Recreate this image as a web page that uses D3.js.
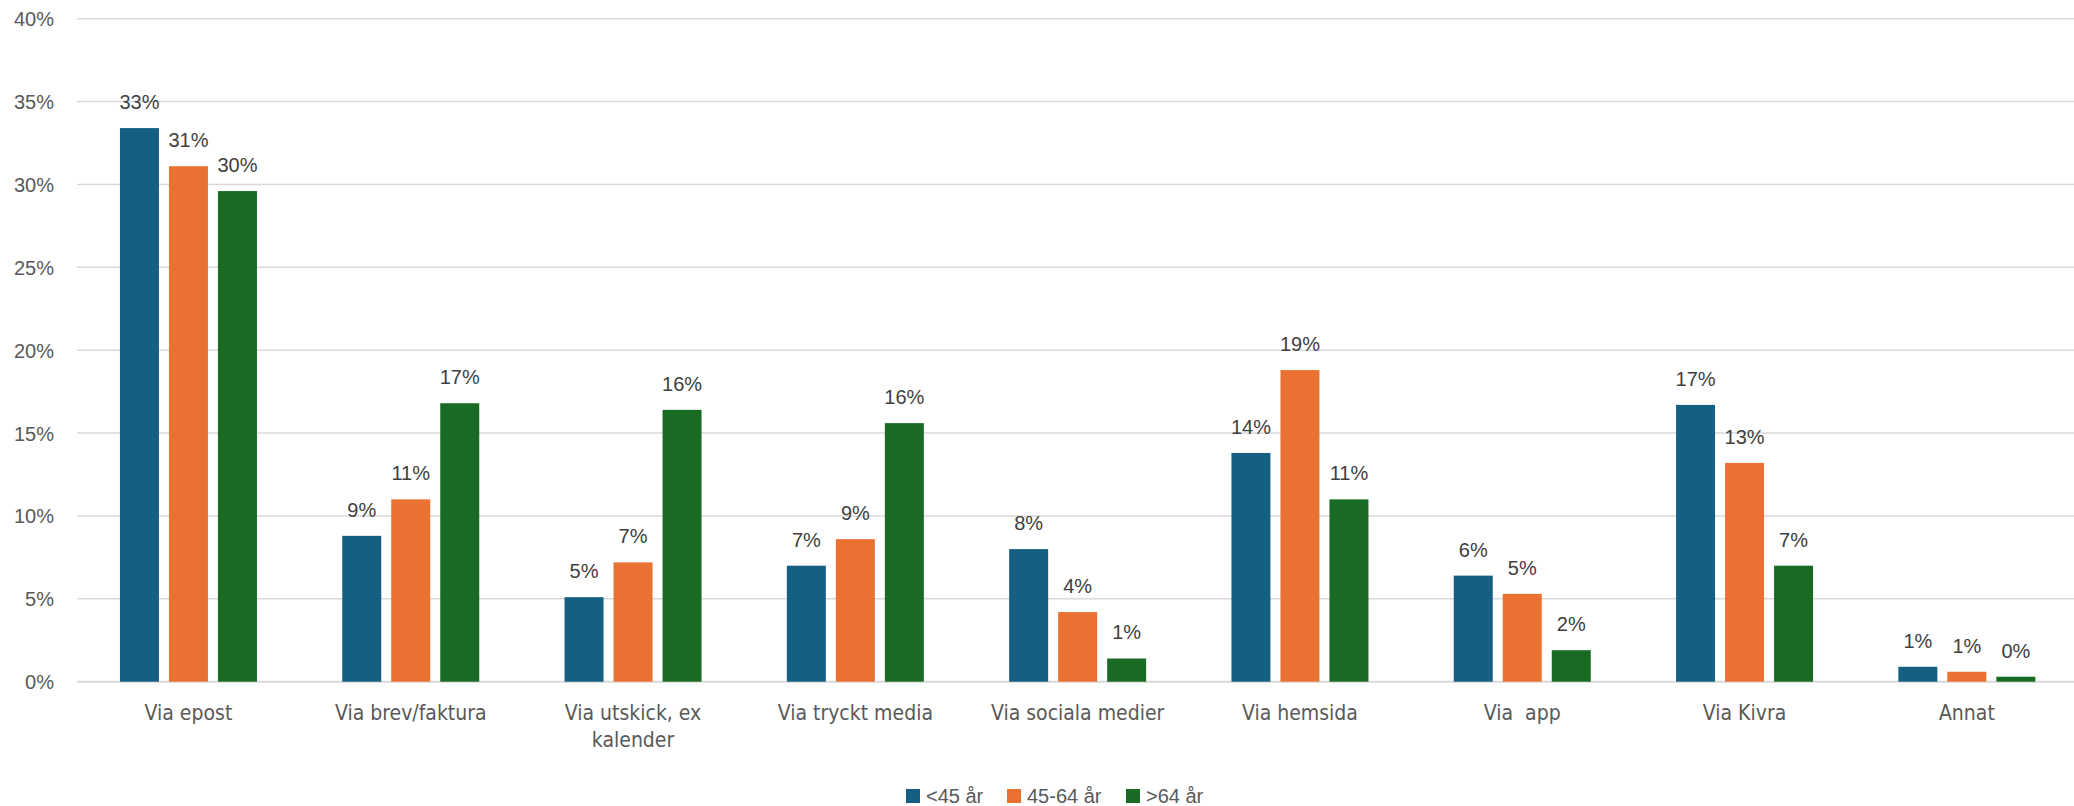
<!DOCTYPE html>
<html>
<head>
<meta charset="utf-8">
<script src="https://cdn.jsdelivr.net/npm/d3@7"></script>
<style>
  html, body { margin: 0; padding: 0; background: #ffffff; }
  svg { display: block; }
</style>
</head>
<body>
<svg id="chart" width="2074" height="806"></svg>
<script>
const categories = ["Via epost", "Via brev/faktura", "Via utskick, ex kalender", "Via tryckt media", "Via sociala medier", "Via hemsida", "Via  app", "Via Kivra", "Annat"];
const seriesNames = ["<45 år", "45-64 år", ">64 år"];
const under45 = [0.334, 0.088, 0.051, 0.070, 0.080, 0.138, 0.064, 0.167, 0.009];
const age45to64 = [0.311, 0.110, 0.072, 0.086, 0.042, 0.188, 0.053, 0.132, 0.006];
const over64 = [0.296, 0.168, 0.164, 0.156, 0.014, 0.110, 0.019, 0.070, 0.003];
const colors = ["#156082", "#E97132", "#196B24"];
const yTicks = [0, 0.05, 0.10, 0.15, 0.20, 0.25, 0.30, 0.35, 0.40];

const seriesValues = [under45, age45to64, over64];
const W = 2074, H = 806;
const svg = d3.select("#chart");

const x = d3.scaleBand().domain(categories).range([77.3, 2078]).paddingInner(0).paddingOuter(0);
const xs = d3.scaleBand().domain(seriesNames).range([-68.5, 68.5]).paddingInner(10 / 49).paddingOuter(0);
const y = d3.scaleLinear().domain([0, 0.4]).range([681.7, 18.7]);
const pct = d3.format(".0%");

// gridlines
svg.append("g").selectAll("line").data(yTicks).join("line")
  .attr("x1", 77).attr("x2", W)
  .attr("y1", d => y(d)).attr("y2", d => y(d))
  .attr("stroke", "#d9d9d9").attr("stroke-width", d => d === 0 ? 2 : 1.5);

// y axis labels
const yAxis = d3.axisLeft(y).tickValues(yTicks).tickFormat(pct).tickSize(0).tickPadding(0);
const ya = svg.append("g").attr("transform", "translate(54,0)").call(yAxis);
ya.select(".domain").remove();
ya.selectAll("text")
  .attr("font-family", "'Liberation Sans', Arial, sans-serif")
  .attr("font-size", 20).attr("fill", "#595959").attr("dy", "0.35em");

// bars
const data = [];
categories.forEach((c, i) => {
  seriesNames.forEach((s, j) => data.push({ c, s, v: seriesValues[j][i], j }));
});
const bars = svg.append("g");
bars.selectAll("rect").data(data).join("rect")
  .attr("x", d => x(d.c) + x.bandwidth() / 2 + xs(d.s))
  .attr("width", xs.bandwidth())
  .attr("y", d => y(d.v))
  .attr("height", d => y(0) - y(d.v))
  .attr("fill", d => colors[d.j]);

// data labels
svg.append("g").selectAll("text").data(data).join("text")
  .attr("x", d => x(d.c) + x.bandwidth() / 2 + xs(d.s) + xs.bandwidth() / 2)
  .attr("y", d => y(d.v) - 19)
  .attr("text-anchor", "middle")
  .attr("font-family", "'Liberation Sans', Arial, sans-serif")
  .attr("font-size", 20).attr("fill", "#404040")
  .text(d => pct(d.v));

// x axis category labels with wrapping
const xAxis = d3.axisBottom(x).tickSize(0).tickPadding(0);
const xa = svg.append("g").attr("transform", "translate(0,705)").call(xAxis);
xa.select(".domain").remove();
xa.selectAll("text")
  .attr("font-family", "'DejaVu Sans Condensed', 'DejaVu Sans', sans-serif")
  .attr("font-stretch", "condensed")
  .attr("font-size", 21).attr("fill", "#595959")
  .attr("dy", "0.71em")
  .style("white-space", "pre")
  .each(function (d) {
    const t = d3.select(this);
    const maxW = 185;
    t.text(d);
    if (this.getComputedTextLength() <= maxW) return;
    const words = d.split(" ");
    t.text(null);
    let line = [];
    let tspan = t.append("tspan").attr("x", 0).attr("dy", "0.71em");
    words.forEach(w => {
      line.push(w);
      tspan.text(line.join(" "));
      if (tspan.node().getComputedTextLength() > maxW && line.length > 1) {
        line.pop();
        tspan.text(line.join(" "));
        line = [w];
        tspan = t.append("tspan").attr("x", 0).attr("dy", "1.27em").text(w);
      }
    });
    t.attr("dy", null);
  });

// legend
const legendX = [906, 1007, 1126];
const lg = svg.append("g");
seriesNames.forEach((s, j) => {
  lg.append("rect").attr("x", legendX[j]).attr("y", 789).attr("width", 14).attr("height", 14).attr("fill", colors[j]);
  lg.append("text").attr("x", legendX[j] + 20).attr("y", 796).attr("dy", "0.35em")
    .attr("font-family", "'Liberation Sans', Arial, sans-serif")
    .attr("font-size", 20).attr("fill", "#595959").text(s);
});
</script>
</body>
</html>
